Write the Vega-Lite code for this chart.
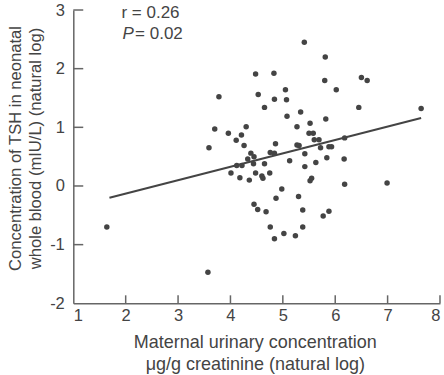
{
  "$schema": "https://vega.github.io/schema/vega-lite/v6.json",
  "width": 366.7,
  "height": 293.3,
  "autosize": {"type": "none"},
  "padding": {"left": 73.3, "top": 10, "right": 3.7, "bottom": 71.7},
  "background": "white",
  "config": {
    "view": {"stroke": null},
    "font": "Liberation Sans",
    "axis": {
      "grid": false,
      "ticks": false,
      "domainColor": "#666",
      "domainWidth": 1.5,
      "labelFont": "Liberation Sans",
      "labelFontSize": 16.5,
      "labelColor": "#444",
      "labelExpr": "'' + datum.value",
      "titleFont": "Liberation Sans",
      "titleFontWeight": "normal",
      "titleColor": "#444"
    }
  },
  "datasets": {
    "points": [
      {"x": 1.64, "y": -0.70}, {"x": 3.57, "y": -1.47}, {"x": 3.59, "y": 0.65}, {"x": 3.70, "y": 0.97},
      {"x": 3.78, "y": 1.52}, {"x": 3.96, "y": 0.90}, {"x": 4.01, "y": 0.22}, {"x": 4.11, "y": 0.78},
      {"x": 4.12, "y": 0.35}, {"x": 4.22, "y": 0.35}, {"x": 4.18, "y": 0.14}, {"x": 4.21, "y": 0.87},
      {"x": 4.26, "y": 0.69}, {"x": 4.30, "y": 1.01}, {"x": 4.36, "y": 0.10}, {"x": 4.33, "y": 0.46},
      {"x": 4.39, "y": 0.56}, {"x": 4.45, "y": 0.50}, {"x": 4.44, "y": 0.38}, {"x": 4.48, "y": 1.91},
      {"x": 4.53, "y": 1.56}, {"x": 4.48, "y": 0.22}, {"x": 4.45, "y": -0.31}, {"x": 4.52, "y": -0.40},
      {"x": 4.60, "y": 0.17}, {"x": 4.62, "y": 0.13}, {"x": 4.65, "y": 1.34}, {"x": 4.65, "y": 0.38},
      {"x": 4.68, "y": -0.44}, {"x": 4.75, "y": 0.22}, {"x": 4.76, "y": -0.70}, {"x": 4.76, "y": 0.57},
      {"x": 4.84, "y": 0.56}, {"x": 4.83, "y": 1.92}, {"x": 4.84, "y": 1.48}, {"x": 4.86, "y": 0.72},
      {"x": 4.84, "y": -0.90}, {"x": 4.87, "y": -0.21}, {"x": 4.98, "y": -0.05}, {"x": 5.02, "y": -0.81},
      {"x": 5.05, "y": 1.64}, {"x": 5.07, "y": 1.47}, {"x": 5.08, "y": 1.19}, {"x": 5.13, "y": 0.43},
      {"x": 5.24, "y": -0.85}, {"x": 5.27, "y": 1.01}, {"x": 5.27, "y": 0.70}, {"x": 5.31, "y": 0.69},
      {"x": 5.30, "y": -0.18}, {"x": 5.34, "y": 1.26}, {"x": 5.38, "y": -0.41}, {"x": 5.38, "y": -0.70},
      {"x": 5.41, "y": 2.45}, {"x": 5.42, "y": 0.55}, {"x": 5.42, "y": 0.33}, {"x": 5.50, "y": 0.90},
      {"x": 5.58, "y": 0.90}, {"x": 5.52, "y": 1.07}, {"x": 5.52, "y": 0.09}, {"x": 5.55, "y": 0.13},
      {"x": 5.60, "y": 0.79}, {"x": 5.69, "y": 0.79}, {"x": 5.63, "y": 0.40}, {"x": 5.72, "y": 0.65},
      {"x": 5.77, "y": -0.51}, {"x": 5.81, "y": 2.20}, {"x": 5.80, "y": 1.80}, {"x": 5.82, "y": 1.14},
      {"x": 5.84, "y": 0.48}, {"x": 5.88, "y": 0.67}, {"x": 5.93, "y": 0.67}, {"x": 5.88, "y": -0.43},
      {"x": 6.02, "y": 1.64}, {"x": 6.18, "y": 0.82}, {"x": 6.17, "y": 0.46}, {"x": 6.18, "y": 0.03},
      {"x": 6.50, "y": 1.85}, {"x": 6.61, "y": 1.80}, {"x": 6.45, "y": 1.34}, {"x": 7.64, "y": 1.32},
      {"x": 6.99, "y": 0.05}
    ],
    "fit": [
      {"x": 1.69, "y": -0.20},
      {"x": 7.64, "y": 1.16}
    ],
    "xticks": [{"v": 2}, {"v": 3}, {"v": 4}, {"v": 5}, {"v": 6}, {"v": 7}, {"v": 8}],
    "yticks": [{"v": -1}, {"v": 0}, {"v": 1}, {"v": 2}, {"v": 3}],
    "notes": [
      {"x": 1.92, "y": 2.87, "label": "r = 0.26", "italic": false},
      {"x": 1.94, "y": 2.50, "label": "P", "italic": true},
      {"x": 2.18, "y": 2.50, "label": "= 0.02", "italic": false}
    ]
  },
  "layer": [
    {
      "data": {"name": "points"},
      "mark": {"type": "circle", "size": 30, "color": "#444", "opacity": 1},
      "encoding": {
        "x": {
          "field": "x", "type": "quantitative",
          "scale": {"domain": [1, 8], "nice": false, "zero": false},
          "axis": {
            "values": [1, 2, 3, 4, 5, 6, 7, 8],
            "labelPadding": 4,
            "title": ["Maternal urinary concentration", "μg/g creatinine (natural log)"],
            "titleFontSize": 18,
            "titleX": 181.5,
            "titleY": 44,
            "titleAlign": "center",
            "titleBaseline": "alphabetic",
            "titleLineHeight": 22
          }
        },
        "y": {
          "field": "y", "type": "quantitative",
          "scale": {"domain": [-2, 3], "nice": false, "zero": false},
          "axis": {
            "values": [-2, -1, 0, 1, 2, 3],
            "labelPadding": 9,
            "title": ["Concentration of TSH in neonatal", "whole blood (mIU/L) (natural log)"],
            "titleFontSize": 16.6,
            "titleX": -52.6,
            "titleY": 138,
            "titleAngle": -90,
            "titleAlign": "center",
            "titleBaseline": "alphabetic",
            "titleLineHeight": 20
          }
        }
      }
    },
    {
      "data": {"name": "xticks"},
      "mark": {"type": "rule", "color": "#666", "strokeWidth": 1.5},
      "encoding": {
        "x": {"field": "v", "type": "quantitative"},
        "y": {"datum": -2},
        "y2": {"datum": -1.864}
      }
    },
    {
      "data": {"name": "yticks"},
      "mark": {"type": "rule", "color": "#666", "strokeWidth": 1.5},
      "encoding": {
        "y": {"field": "v", "type": "quantitative"},
        "x": {"datum": 1},
        "x2": {"datum": 1.19}
      }
    },
    {
      "data": {"name": "fit"},
      "mark": {"type": "line", "color": "#444", "strokeWidth": 2},
      "encoding": {
        "x": {"field": "x", "type": "quantitative"},
        "y": {"field": "y", "type": "quantitative"}
      }
    },
    {
      "data": {"name": "notes"},
      "transform": [{"filter": "!datum.italic"}],
      "mark": {"type": "text", "align": "left", "baseline": "alphabetic", "fontSize": 17, "color": "#444", "font": "Liberation Sans"},
      "encoding": {
        "x": {"field": "x", "type": "quantitative"},
        "y": {"field": "y", "type": "quantitative"},
        "text": {"field": "label"}
      }
    },
    {
      "data": {"name": "notes"},
      "transform": [{"filter": "datum.italic"}],
      "mark": {"type": "text", "align": "left", "baseline": "alphabetic", "fontSize": 17, "fontStyle": "italic", "color": "#444", "font": "Liberation Sans"},
      "encoding": {
        "x": {"field": "x", "type": "quantitative"},
        "y": {"field": "y", "type": "quantitative"},
        "text": {"field": "label"}
      }
    }
  ]
}
